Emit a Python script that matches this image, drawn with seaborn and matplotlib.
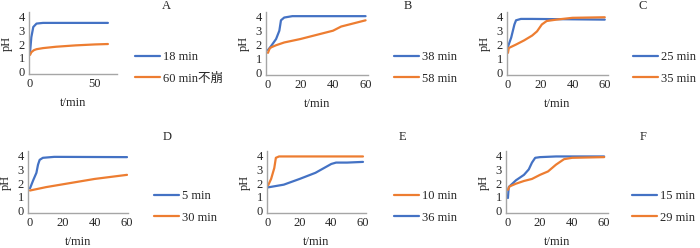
import seaborn as sns
import matplotlib.pyplot as plt
import pandas as pd

# pH vs time, six panels (A-F), two series each
a_t_18 = [0, 1, 2.5, 5, 10, 60]
a_ph_18 = [1.4, 2.5, 3.25, 3.5, 3.55, 3.55]
a_t_60 = [0, 1, 3, 5, 10, 20, 35, 50, 60]
a_ph_60 = [1.2, 1.4, 1.55, 1.62, 1.7, 1.8, 1.9, 1.97, 2.0]

b_t_38 = [0, 2, 5, 7, 8, 10, 15, 60]
b_ph_38 = [1.6, 1.9, 2.4, 3.0, 3.75, 3.95, 4.05, 4.05]
b_t_58 = [0, 1, 2, 5, 10, 20, 30, 40, 45, 50, 60]
b_ph_58 = [1.4, 1.7, 1.8, 1.95, 2.15, 2.4, 2.7, 3.0, 3.3, 3.45, 3.75]

c_t_25 = [0, 2, 4, 5, 8, 15, 60]
c_ph_25 = [1.85, 2.5, 3.45, 3.75, 3.85, 3.85, 3.8]
c_t_35 = [0, 0.5, 5, 10, 15, 18, 21, 24, 30, 40, 60]
c_ph_35 = [1.4, 1.75, 2.0, 2.3, 2.65, 2.95, 3.45, 3.7, 3.8, 3.93, 3.97]

d_t_5 = [0, 2, 4, 5, 6, 8, 15, 60]
d_ph_5 = [1.6, 2.2, 2.75, 3.35, 3.7, 3.85, 3.92, 3.9]
d_t_30 = [0, 10, 20, 30, 40, 50, 60]
d_ph_30 = [1.45, 1.7, 1.9, 2.1, 2.3, 2.45, 2.6]

e_t_10 = [0, 2, 4, 5, 7, 60]
e_ph_10 = [1.8, 2.3, 3.1, 3.85, 3.95, 3.95]
e_t_36 = [0, 10, 20, 30, 40, 43, 50, 60]
e_ph_36 = [1.68, 1.88, 2.3, 2.75, 3.4, 3.5, 3.5, 3.55]

f_t_15 = [0, 0.5, 5, 10, 13, 15, 17, 20, 30, 60]
f_ph_15 = [0.9, 1.7, 2.2, 2.6, 3.0, 3.5, 3.85, 3.9, 3.95, 3.95]
f_t_29 = [0, 1, 5, 10, 15, 20, 25, 30, 35, 40, 60]
f_ph_29 = [1.5, 1.75, 1.95, 2.15, 2.3, 2.6, 2.85, 3.35, 3.75, 3.85, 3.9]

BLUE = "#4472C4"
ORANGE = "#ED7D31"

sns.set_style("white")
plt.rcParams["font.family"] = ["Liberation Serif", "Noto Sans CJK SC"]
plt.rcParams["font.size"] = 9

W, H = 700, 248
fig = plt.figure(figsize=(7, 2.48), dpi=100)

# letter, axes box (left, right, top, bottom px), xlim, xticks, series, legend pos, letter pos
panels = [
    ("A", (29, 117, 12, 74), (-0.8, 67), [0, 50],
     [(a_t_18, a_ph_18, "18 min", BLUE), (a_t_60, a_ph_60, "60 min不崩", ORANGE)],
     (135, 68), (166, 6)),
    ("B", (266, 368, 12, 75), (-1.2, 61.5), [0, 20, 40, 60],
     [(b_t_38, b_ph_38, "38 min", BLUE), (b_t_58, b_ph_58, "58 min", ORANGE)],
     (394, 68), (408, 6)),
    ("C", (507, 608, 12, 75), (-0.6, 62), [0, 20, 40, 60],
     [(c_t_25, c_ph_25, "25 min", BLUE), (c_t_35, c_ph_35, "35 min", ORANGE)],
     (633, 68), (643, 6)),
    ("D", (28, 128, 151, 213), (-1.2, 60.6), [0, 20, 40, 60],
     [(d_t_5, d_ph_5, "5 min", BLUE), (d_t_30, d_ph_30, "30 min", ORANGE)],
     (154, 207), (167, 137)),
    ("E", (267, 366, 151, 213), (-0.6, 61.9), [0, 20, 40, 60],
     [(e_t_10, e_ph_10, "10 min", ORANGE), (e_t_36, e_ph_36, "36 min", BLUE)],
     (394, 207), (402, 137)),
    ("F", (506, 608, 151, 213), (-1.2, 62.4), [0, 20, 40, 60],
     [(f_t_15, f_ph_15, "15 min", BLUE), (f_t_29, f_ph_29, "29 min", ORANGE)],
     (632, 207), (643, 137)),
]

for letter, box, xlim, xticks, series, leg_pos, let_pos in panels:
    l, r, t, b = box
    ax = fig.add_axes([l / W, 1 - b / H, (r - l) / W, (b - t) / H])
    for x, y, lab, col in series:
        df = pd.DataFrame({"t": x, "pH": y})
        sns.lineplot(data=df, x="t", y="pH", ax=ax, color=col, lw=1.6, label=lab)
    ax.set_xlim(*xlim)
    ax.set_ylim(-0.2, 4.35)
    ax.set_xticks(xticks)
    ax.set_yticks([0, 1, 2, 3, 4])
    ax.tick_params(length=0, pad=3, labelsize=9)
    sns.despine(ax=ax)
    for s in ("left", "bottom"):
        ax.spines[s].set_color("#A6A6A6")
        ax.spines[s].set_linewidth(1)
    ax.set_xlabel("t/min", labelpad=5)
    ax.set_ylabel("pH", labelpad=4)
    ax.legend(loc="center left", bbox_to_anchor=(leg_pos[0] / W, 1 - leg_pos[1] / H),
              bbox_transform=fig.transFigure, frameon=False, borderpad=0,
              borderaxespad=0, handlelength=2.0, handletextpad=0.25,
              labelspacing=0.75, fontsize=9)
    fig.text(let_pos[0] / W, 1 - let_pos[1] / H, letter, ha="center", va="center",
             fontsize=9)

fig.savefig("out.png", dpi=100)
